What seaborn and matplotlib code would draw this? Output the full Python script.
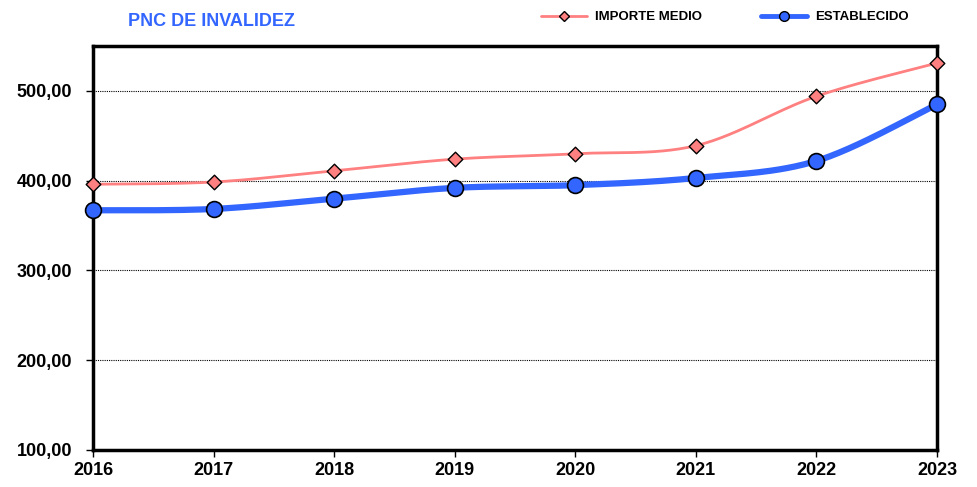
import numpy as np
import pandas as pd
import matplotlib
matplotlib.use("Agg")
import matplotlib.pyplot as plt
from matplotlib.ticker import FuncFormatter
from matplotlib.lines import Line2D
import seaborn as sns

years = [2016, 2017, 2018, 2019, 2020, 2021, 2022, 2023]
importe_medio = [396.0, 398.5, 411.0, 424.0, 430.0, 439.0, 494.0, 531.0]
establecido = [367.0, 368.5, 380.0, 392.0, 395.0, 403.0, 422.0, 485.0]

PINK = "#FF8080"
BLUE = "#3366FF"

sns.set_theme(style="white")
plt.rcParams["font.family"] = ["Liberation Sans Narrow", "Liberation Sans", "DejaVu Sans"]
plt.rcParams["font.weight"] = "bold"


def smooth(x, y, n=30):
    # Excel-like smoothed line (Catmull-Rom via cubic Bezier)
    x = np.asarray(x, float)
    y = np.asarray(y, float)
    px = np.concatenate([[x[0]], x, [x[-1]]])
    py = np.concatenate([[y[0]], y, [y[-1]]])
    xs, ys = [], []
    t = np.linspace(0, 1, n)
    for i in range(1, len(px) - 2):
        p0 = np.array([px[i], py[i]])
        p3 = np.array([px[i + 1], py[i + 1]])
        p1 = p0 + (np.array([px[i + 1], py[i + 1]]) - np.array([px[i - 1], py[i - 1]])) / 6
        p2 = p3 - (np.array([px[i + 2], py[i + 2]]) - np.array([px[i], py[i]])) / 6
        b = ((1 - t) ** 3)[:, None] * p0 + (3 * (1 - t) ** 2 * t)[:, None] * p1 \
            + (3 * (1 - t) * t ** 2)[:, None] * p2 + (t ** 3)[:, None] * p3
        xs.extend(b[:, 0])
        ys.extend(b[:, 1])
    return pd.DataFrame({"x": xs, "y": ys})


fig = plt.figure(figsize=(9.77, 4.87), dpi=100)
ax = fig.add_axes([0.0952, 0.076, 0.8638, 0.8295])

df = pd.DataFrame({"year": years, "importe": importe_medio, "est": establecido})

s1 = smooth(years, importe_medio)
s2 = smooth(years, establecido)
sns.lineplot(data=s1, x="x", y="y", color=PINK, linewidth=2, sort=False,
             estimator=None, ax=ax, zorder=3)
sns.lineplot(data=s2, x="x", y="y", color=BLUE, linewidth=4.5, sort=False,
             estimator=None, ax=ax, zorder=3)
sns.scatterplot(data=df, x="year", y="importe", marker="D", s=55, color=PINK,
                edgecolor="black", linewidth=1, ax=ax, zorder=4, clip_on=False)
sns.scatterplot(data=df, x="year", y="est", marker="o", s=130, color=BLUE,
                edgecolor="black", linewidth=1.2, ax=ax, zorder=4, clip_on=False)

ax.set_xlim(2016, 2023)
ax.set_ylim(100, 550)
ax.set_xticks(years)
ax.set_yticks([100, 200, 300, 400, 500])
ax.yaxis.set_major_formatter(FuncFormatter(lambda v, p: f"{v:.2f}".replace(".", ",")))
ax.set_xlabel("")
ax.set_ylabel("")
ax.tick_params(axis="both", direction="out", length=5, width=1, color="black",
               labelsize=13, labelcolor="black", bottom=True, left=True)
ax.tick_params(axis="y", pad=10)
ax.tick_params(axis="x", pad=4)
for lbl in ax.get_xticklabels() + ax.get_yticklabels():
    lbl.set_fontweight("bold")
for y in [200, 300, 400, 500]:
    ax.axhline(y, color="black", linestyle=(0, (1, 1)), linewidth=0.8, zorder=1)
for sp in ax.spines.values():
    sp.set_color("black")
    sp.set_linewidth(2.5)

fig.text(0.131, 0.955, "PNC DE INVALIDEZ", color=BLUE, fontsize=13,
         fontweight="bold", va="center", ha="left")

handles = [
    Line2D([0], [0], color=PINK, linewidth=2, marker="D", markersize=5,
           markerfacecolor=PINK, markeredgecolor="black"),
    Line2D([0], [0], color=BLUE, linewidth=3.5, marker="o", markersize=7,
           markerfacecolor=BLUE, markeredgecolor="black"),
]
leg = fig.legend(handles, ["IMPORTE MEDIO", "ESTABLECIDO"], ncol=2, frameon=False,
                 loc="center", bbox_to_anchor=(0.742, 0.965), fontsize=9.5,
                 handlelength=3.5, columnspacing=4.5, handletextpad=0.6)
for t in leg.get_texts():
    t.set_color("black")

fig.savefig("out.png", dpi=100)
